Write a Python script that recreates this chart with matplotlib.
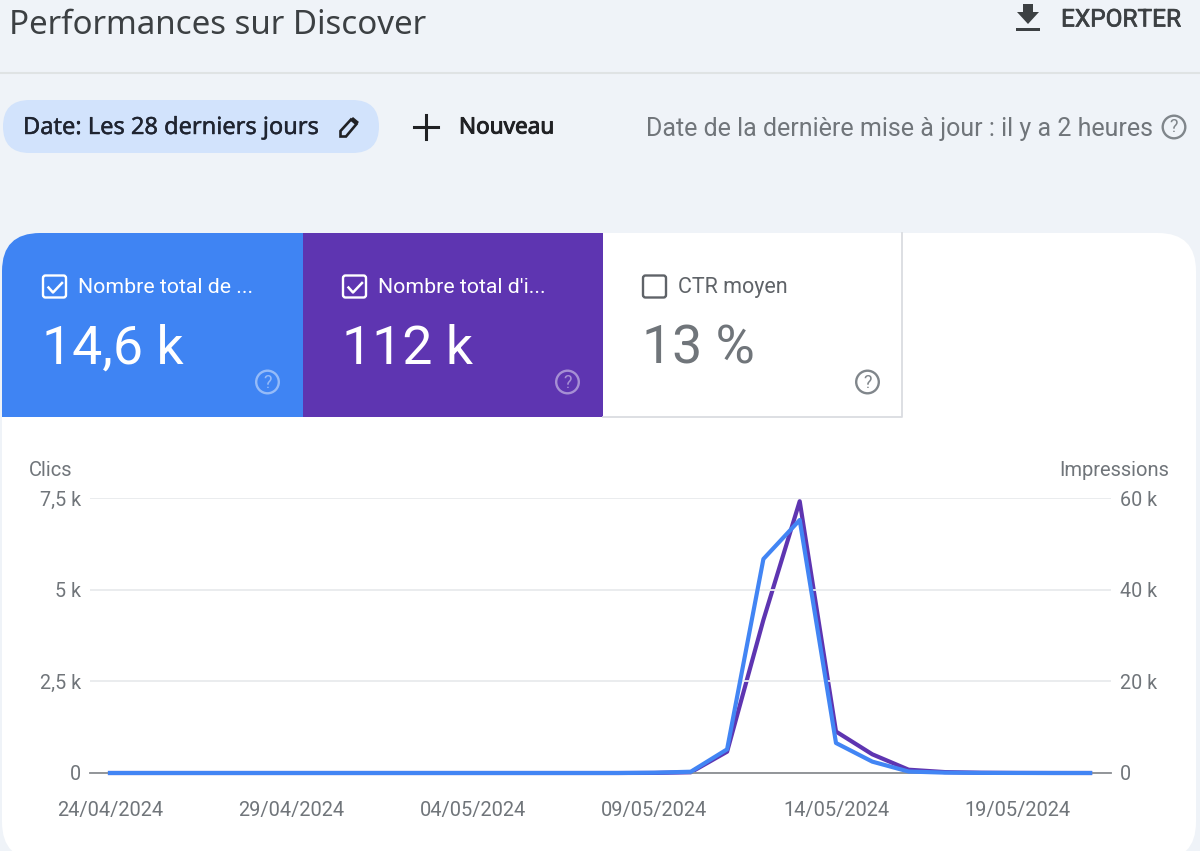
import matplotlib
matplotlib.use("Agg")
import matplotlib.pyplot as plt
import matplotlib.dates as mdates
import matplotlib.patheffects as pe
from matplotlib.patches import FancyBboxPatch, Rectangle, Circle, Polygon
from datetime import date, timedelta

start = date(2024, 4, 24)
dates = [start + timedelta(days=i) for i in range(28)]
clicks = [0]*15 + [8, 35, 646, 5836, 6900, 818, 310, 40, 10, 3, 1, 0, 0]
impressions = [0]*15 + [20, 150, 4650, 33400, 59300, 9050, 4080, 720, 200, 60, 20, 5, 0]
tick_dates = [date(2024, 4, 24), date(2024, 4, 29), date(2024, 5, 4), date(2024, 5, 9), date(2024, 5, 14), date(2024, 5, 19)]
tick_labels = ["24/04/2024", "29/04/2024", "04/05/2024", "09/05/2024", "14/05/2024", "19/05/2024"]
left_ticks = [0, 2500, 5000, 7500]
left_labels = ["0", "2,5 k", "5 k", "7,5 k"]
right_ticks = [0, 20000, 40000, 60000]
right_labels = ["0", "20 k", "40 k", "60 k"]

W, H = 1200, 851
BG = "#eff3f8"; BLUE = "#3f84f3"; PURPLE = "#5e35b1"
GREY = "#5f6368"; DARK = "#3c4043"
plt.rcParams["font.family"] = ["Roboto", "DejaVu Sans"]

fig = plt.figure(figsize=(12, 8.51), dpi=100, facecolor=BG)
bg = fig.add_axes([0, 0, 1, 1], zorder=0)
bg.set_xlim(0, W); bg.set_ylim(H, 0); bg.axis("off")

def T(x, y, s, size, color=DARK, ha="left", va="center", family=None, stroke=0):
    t = bg.text(x, y, s, fontsize=size, color=color, ha=ha, va=va,
                family=family if family else ["Roboto", "DejaVu Sans"])
    if stroke:
        t.set_path_effects([pe.withStroke(linewidth=stroke, foreground=color)])
    return t

def help_icon(x, y, color, alpha=1):
    bg.add_patch(Circle((x, y), 11.3, fc="none", ec=color, lw=1.7, alpha=alpha))
    bg.text(x, y + .5, "?", fontsize=13, color=color, alpha=alpha, ha="center", va="center")

def checkbox(x, y, color, checked=True):
    bg.add_patch(FancyBboxPatch((x + 1, y + 1), 23, 22, boxstyle="round,pad=0,rounding_size=2.5",
                                fc="none", ec=color, lw=1.7))
    if checked:
        bg.plot([x + 6.5, x + 11, x + 20], [y + 13, y + 18, y + 8.5], color=color, lw=1.8)

# header
T(9, 25, "Performances sur Discover", 23.8, DARK, family=["Noto Sans", "DejaVu Sans"])
T(1061, 20, "EXPORTER", 17.6, DARK, stroke=.5)
bg.add_patch(Polygon([(1023, 4), (1033, 4), (1033, 12), (1039, 12), (1028, 24), (1017, 12), (1023, 12)], fc=DARK, ec="none"))
bg.add_patch(Rectangle((1016, 28), 24, 3, fc=DARK, ec="none"))
bg.plot([0, W], [72.5, 72.5], color="#dfe3e4", lw=1.5)

bg.add_patch(FancyBboxPatch((3, 100), 376, 53, boxstyle="round,pad=0,rounding_size=26.5", fc="#d2e3fc", ec="none"))
T(23, 128, "Date: Les 28 derniers jours", 17, "#1f2430", family=["Noto Sans", "DejaVu Sans"], stroke=.3)
bg.add_patch(Polygon([(340.5, 136.5), (340.5, 131), (351, 119.5), (356.5, 124), (346, 136.5)], fc="none", ec="#202124", lw=1.9))
bg.add_patch(Polygon([(350, 120), (353, 117), (359, 122), (356, 125)], fc="#202124", ec="none"))
bg.plot([414, 438], [127, 127], color="#202124", lw=2.2)
bg.plot([426, 426], [115, 139], color="#202124", lw=2.2)
T(459, 128, "Nouveau", 16.2, "#202124", family=["Noto Sans", "DejaVu Sans"], stroke=.7)
T(646, 129, "Date de la dernière mise à jour : il y a 2 heures", 18, "#70757a")
help_icon(1174, 127, "#80868b")

# white card
card = FancyBboxPatch((2, 233), 1194, 627, boxstyle="round,pad=0,rounding_size=38", fc="white", ec="none")
bg.add_patch(card)
blue_panel = Rectangle((2, 233), 300.5, 184, fc=BLUE, ec="none")
bg.add_patch(blue_panel); blue_panel.set_clip_path(card)
bg.add_patch(Rectangle((302.5, 233), 300.5, 184, fc=PURPLE, ec="none"))
bg.plot([603, 902, 902], [417, 417, 233], color="#dadce0", lw=1.3)

checkbox(42, 274.5, "white"); T(78, 287.5, "Nombre total de ...", 15.3, "white")
T(42.5, 349, "14,6 k", 38.6, "white")
help_icon(267.5, 382, "white", .45)
checkbox(342, 274.5, "white"); T(378, 287.5, "Nombre total d'i...", 15.3, "white")
T(342.5, 349, "112 k", 38.6, "white")
help_icon(567.5, 382, "white", .45)
checkbox(642, 274.5, "#5f6368", checked=False); T(678, 287.5, "CTR moyen", 15.5, GREY)
T(642.5, 349, "13 %", 38.6, "#70757a")
help_icon(867.5, 382, "#80868b")

# chart axes: pixel box 90..1111 x 498..773
ax = fig.add_axes([90 / W, 1 - 773 / H, (1111 - 90) / W, (773 - 498) / H], zorder=3)
ax2 = ax.twinx()
ax2.set_zorder(2); ax.patch.set_visible(False); ax2.patch.set_visible(False)

ax.plot(dates, clicks, color="#4285f4", lw=3, solid_joinstyle="round", clip_on=False, zorder=5)
ax2.plot(dates, impressions, color=PURPLE, lw=3, solid_joinstyle="round", clip_on=False, zorder=5)

d0 = mdates.date2num(start); perday = 36.3
ax.set_xlim(d0 - 20 / perday, d0 + (1111 - 110) / perday)
ax.set_ylim(0, 7500); ax2.set_ylim(0, 60000)
ax.set_xticks([mdates.date2num(d) for d in tick_dates], tick_labels)
ax.set_yticks(left_ticks, left_labels)
ax2.set_yticks(right_ticks, right_labels)
ax.tick_params(axis="x", length=0, pad=20, labelsize=14.4, labelcolor="#70757a")
ax.tick_params(axis="y", length=0, pad=6.5, labelsize=14.2, labelcolor="#70757a")
ax2.tick_params(axis="y", length=0, pad=6.5, labelsize=14.2, labelcolor="#70757a")
ax.grid(axis="y", color="#e8eaed", lw=1.3)
ax.set_axisbelow(True)
for a in (ax, ax2):
    for s in a.spines.values():
        s.set_visible(False)
ax.spines["bottom"].set_visible(True); ax.spines["bottom"].set_color("#8a8d91"); ax.spines["bottom"].set_linewidth(1.3)

T(29, 471, "Clics", 14.5, "#70757a")
T(1059, 471, "Impressions", 14.5, "#70757a")

fig.savefig("out.png", dpi=100, facecolor=BG)
